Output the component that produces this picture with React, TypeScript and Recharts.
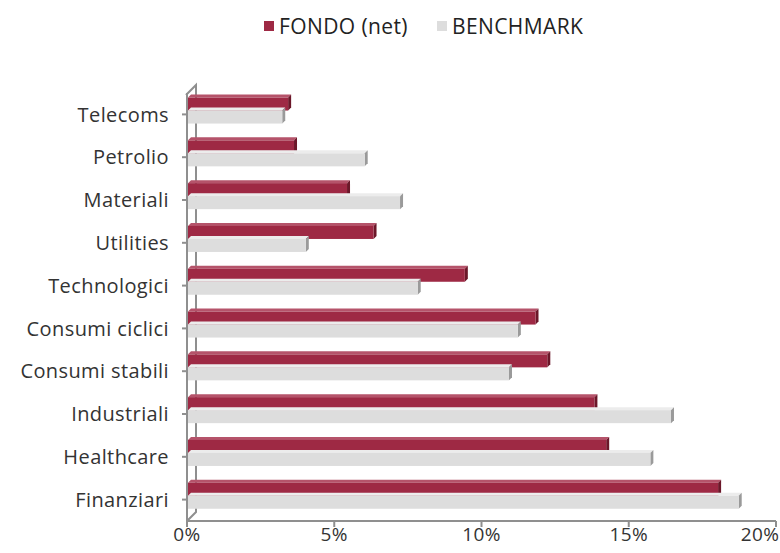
import { BarChart, Bar, XAxis, YAxis } from "recharts";

const categories = [
  "Telecoms",
  "Petrolio",
  "Materiali",
  "Utilities",
  "Technologici",
  "Consumi ciclici",
  "Consumi stabili",
  "Industriali",
  "Healthcare",
  "Finanziari",
];
const fondo = [3.4, 3.6, 5.4, 6.3, 9.4, 11.8, 12.2, 13.8, 14.2, 18.0];
const benchmark = [3.2, 6.0, 7.2, 4.0, 7.8, 11.2, 10.9, 16.4, 15.7, 18.7];
const xTicks = [0, 5, 10, 15, 20];

const data = categories.map((name, i) => ({
  name,
  fondo: fondo[i],
  benchmark: benchmark[i],
}));

const FONT = "'Open Sans', sans-serif";
const AXIS = "#8f8f8f";

// bar with a small top face and right cap, lifted a bit for the perspective
function Bar3D(props: any) {
  const { x, width, height, face, top, side } = props;
  if (!width || width <= 0) return null;
  const y = props.y - 4;
  const bx = x + 1;
  const d = 3;
  return (
    <g>
      <polygon
        points={`${bx},${y} ${bx + d},${y - d} ${bx + width + d},${y - d} ${bx + width},${y}`}
        fill={top}
      />
      <polygon
        points={`${bx + width},${y} ${bx + width + d},${y - d} ${bx + width + d},${y + height - d} ${bx + width},${y + height}`}
        fill={side}
      />
      <rect x={bx} y={y} width={width} height={height} fill={face} />
    </g>
  );
}

// keep the last label inside the picture
function XTick(props: any) {
  const { x, y, payload } = props;
  const cx = Math.min(x, 760);
  return (
    <text x={cx} y={y} dy="0.71em" textAnchor="middle" fill="#333" fontSize={19} fontFamily={FONT} letterSpacing={0.4}>
      {`${payload.value}%`}
    </text>
  );
}

function TopLegend() {
  const items = [
    { label: "FONDO (net)", color: "#9e2944", left: 264 },
    { label: "BENCHMARK", color: "#dddddd", left: 437 },
  ];
  return (
    <>
      {items.map((it) => (
        <div
          key={it.label}
          style={{
            position: "absolute",
            left: it.left,
            top: 12,
            display: "flex",
            alignItems: "center",
            fontFamily: FONT,
            fontSize: 21,
            letterSpacing: 0.4,
            color: "#222",
          }}
        >
          <span style={{ width: 10, height: 10, background: it.color, marginRight: 5, display: "inline-block" }} />
          {it.label}
        </div>
      ))}
    </>
  );
}

export default function App() {
  return (
    <div style={{ position: "absolute", left: 0, top: 0, width: 780, height: 553, background: "#fff", overflow: "hidden" }}>
      {/* back wall of the 3D frame */}
      <svg width={780} height={553} style={{ position: "absolute", left: 0, top: 0 }}>
        <polyline points="186,95 196,85 196,512 187,521" fill="none" stroke={AXIS} strokeWidth={2} />
      </svg>
      <div style={{ position: "absolute", left: 0, top: 0 }}>
        <BarChart
          width={780}
          height={553}
          data={data}
          layout="vertical"
          margin={{ top: 93, right: 4, bottom: 0, left: 0 }}
          barCategoryGap="20%"
          barGap={0}
        >
          <XAxis
            type="number"
            domain={[0, 20]}
            ticks={xTicks}
            stroke={AXIS}
            strokeWidth={2}
            tickSize={6}
            tickMargin={1}
            height={32}
            tick={<XTick />}
            interval={0}
          />
          <YAxis
            type="category"
            dataKey="name"
            width={187}
            stroke={AXIS}
            strokeWidth={2}
            tickSize={5}
            tickMargin={13}
            tick={{ fill: "#333", fontSize: 20, fontFamily: FONT, letterSpacing: 0.4 }}
            interval={0}
          />
          <Bar
            dataKey="fondo"
            name="FONDO (net)"
            isAnimationActive={false}
            shape={<Bar3D face="#9e2944" top="#b5536a" side="#6b1729" />}
          />
          <Bar
            dataKey="benchmark"
            name="BENCHMARK"
            isAnimationActive={false}
            shape={<Bar3D face="#dddddd" top="#ececec" side="#9a9a9a" />}
          />
        </BarChart>
      </div>
      <TopLegend />
    </div>
  );
}
